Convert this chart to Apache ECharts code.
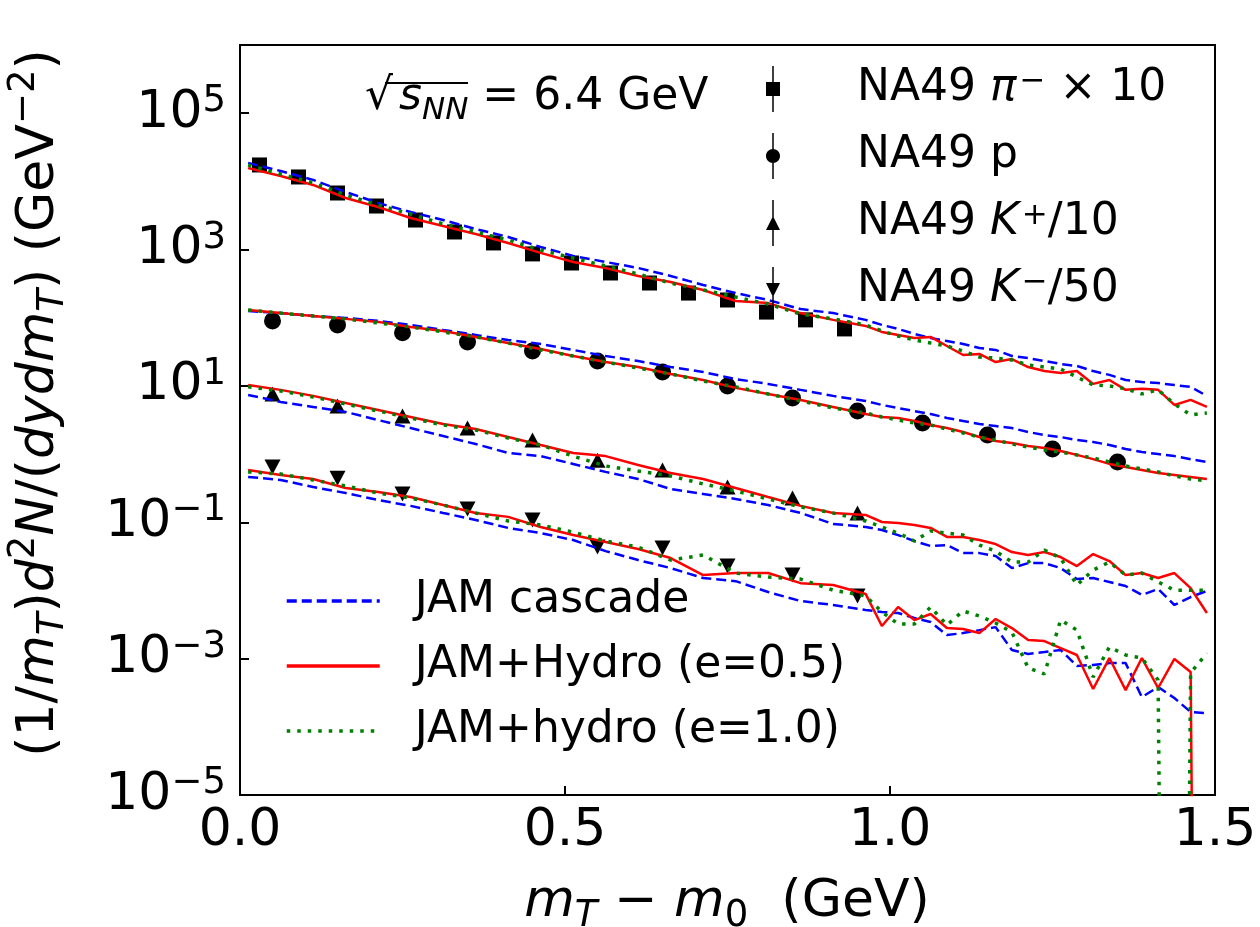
<!DOCTYPE html>
<html>
<head>
<meta charset="utf-8">
<title>NA49 mT spectra, JAM</title>
<script src="https://cdn.jsdelivr.net/npm/echarts@6/dist/echarts.min.js"></script>
<style>
  html, body { margin: 0; padding: 0; background: #fff; }
  #chart { width: 1260px; height: 927px; }
</style>
</head>
<body>
<div id="chart"></div>
<script>
// mT - m0 grid of the model curves (GeV)
var xModel = [0.0125, 0.0625, 0.1125, 0.1625, 0.2125, 0.2625, 0.3125, 0.3625, 0.4125, 0.4625,
  0.5125, 0.5625, 0.6125, 0.6625, 0.7125, 0.7625, 0.8125, 0.8625, 0.9125, 0.9625,
  0.9875, 1.0125, 1.0375, 1.0625, 1.0875, 1.1125, 1.1375, 1.1625, 1.1875, 1.2125,
  1.2375, 1.2625, 1.2875, 1.3125, 1.3375, 1.3625, 1.3875, 1.4125, 1.4375, 1.4625, 1.4875];

// pi- x 10
var piBlue = [18600, 14200, 10500, 6990, 4820, 3550, 2710, 2000, 1530, 1090, 806, 658, 537, 410, 302, 230, 182, 134, 117, 93,
  78.5, 68.5, 57.9, 50.5, 45.6, 41.2, 36.0, 33.7, 27.5, 25.6, 23.2, 21.0, 19.6, 16.5, 14.5, 12.2, 11.4, 11.0, 10.3, 9.68, 7.14];
var piRed = [15700, 12000, 8860, 5700, 4210, 2900, 2210, 1690, 1250, 893, 658, 537, 410, 334, 255, 176, 164, 117, 93, 75.8,
  61.9, 55.9, 50.5, 52.3, 38.5, 28.4, 29.4, 22.4, 24.8, 18.9, 16.5, 15.5, 16.5, 10.7, 12.2, 8.75, 9.05, 8.75, 5.26, 6.23, 4.92];
var piGreen = [17400, 12800, 9490, 6320, 4500, 3320, 2370, 1810, 1380, 986, 750, 574, 438, 323, 255, 201, 159, 113, 96.2, 78.5,
  64.0, 53.9, 47.2, 42.6, 38.5, 32.5, 26.5, 25.6, 24.0, 20.3, 18.9, 17.7, 13.5, 10.3, 10.0, 9.05, 7.63, 8.75, 5.44, 3.75, 4.01];

// protons
var prBlue = [125, 117, 106, 99.5, 89.9, 78.5, 66.2, 55.9, 47.2, 41.2, 33.7, 27.5, 23.2, 18.9, 16.0, 12.6, 10.7, 8.75, 7.14, 6.02,
  5.26, 4.74, 4.28, 3.87, 3.39, 3.06, 2.76, 2.58, 2.41, 2.11, 1.905, 1.78, 1.61, 1.505, 1.36, 1.19, 1.07, 1.0, 0.934, 0.843, 0.766];
var prRed = [130, 117, 106, 96.2, 86.9, 73.3, 64.0, 52.3, 42.6, 34.8, 27.5, 22.4, 18.9, 14.95, 12.2, 9.36, 7.63, 6.23, 4.92, 3.87,
  3.5, 3.39, 3.06, 2.67, 2.41, 2.11, 1.78, 1.56, 1.455, 1.315, 1.23, 1.11, 0.973, 0.843, 0.718, 0.645, 0.584, 0.528, 0.494, 0.462, 0.432];
var prGreen = [130, 117, 106, 96.2, 83.7, 73.3, 61.9, 52.3, 42.6, 33.7, 27.5, 22.4, 18.3, 14.95, 11.8, 9.68, 7.63, 6.02, 4.74, 4.01,
  3.5, 3.16, 2.86, 2.67, 2.33, 2.04, 1.78, 1.61, 1.406, 1.27, 1.15, 1.07, 0.973, 0.876, 0.766, 0.669, 0.606, 0.548, 0.478, 0.432, 0.404];

// K+ / 10
var kpBlue = [7.38, 5.82, 4.92, 4.15, 3.16, 2.41, 1.84, 1.406, 1.04, 0.934, 0.717, 0.548, 0.432, 0.308, 0.26, 0.22, 0.179, 0.137, 0.0945, 0.0854,
  0.0769, 0.0649, 0.0531, 0.0448, 0.0463, 0.0353, 0.0353, 0.032, 0.0213, 0.0252, 0.0252, 0.0213, 0.0147, 0.0152, 0.0133, 0.0116, 0.00859, 0.0105, 0.00612, 0.00801, 0.00982];
var kpRed = [10.3, 8.75, 7.14, 5.63, 4.44, 3.5, 2.76, 2.33, 1.78, 1.36, 1.04, 0.934, 0.69, 0.528, 0.432, 0.318, 0.235, 0.174, 0.137, 0.128,
  0.101, 0.0979, 0.0914, 0.0826, 0.0609, 0.0609, 0.0549, 0.0479, 0.0366, 0.0331, 0.0366, 0.0309, 0.0228, 0.0342, 0.027, 0.0168, 0.018, 0.0152, 0.018, 0.0108, 0.00467];
var kpGreen = [9.68, 8.43, 6.89, 5.44, 4.28, 3.39, 2.67, 2.26, 1.72, 1.36, 0.934, 0.669, 0.565, 0.478, 0.365, 0.288, 0.22, 0.168, 0.137, 0.1045,
  0.0854, 0.0694, 0.0531, 0.0743, 0.0694, 0.0649, 0.0463, 0.0378, 0.0261, 0.0261, 0.0391, 0.0299, 0.012, 0.0199, 0.0261, 0.0168, 0.018, 0.0133, 0.0101, 0.0101, 0.0101];

// K- / 50  (1e-30 = empty bin, drops off the axis)
var kmBlue = [0.462, 0.418, 0.329, 0.269, 0.212, 0.174, 0.137, 0.108, 0.0826, 0.0694, 0.0549, 0.0378, 0.0279, 0.0213, 0.0152, 0.0137, 0.00949, 0.007, 0.00612, 0.00517,
  0.00483, 0.00467, 0.00394, 0.00344, 0.00222, 0.00237, 0.00262, 0.0029, 0.00134, 0.00117, 0.00125, 0.00134, 0.000782, 0.000809, 0.00086, 0.00086, 0.000273, 0.000383, 0.000264, 0.000165, 0.000159];
var kmRed = [0.584, 0.494, 0.432, 0.318, 0.278, 0.235, 0.179, 0.137, 0.12, 0.0854, 0.0649, 0.0513, 0.0405, 0.0299, 0.0168, 0.018, 0.018, 0.0128, 0.012, 0.00889,
  0.00301, 0.00571, 0.00368, 0.00451, 0.00281, 0.00272, 0.00237, 0.00381, 0.00281, 0.00188, 0.00181, 0.00143, 0.00113, 0.000359, 0.00102, 0.000346, 0.00102, 0.000371, 0.00099, 0.000636, 1e-30];
var kmGreen = [0.548, 0.512, 0.418, 0.341, 0.269, 0.227, 0.179, 0.137, 0.1045, 0.0914, 0.0718, 0.0531, 0.0433, 0.0279, 0.0331, 0.018, 0.0157, 0.0147, 0.0101, 0.00831,
  0.00483, 0.00322, 0.00322, 0.00571, 0.00311, 0.005, 0.00422, 0.00333, 0.00245, 0.000731, 0.000596, 0.00368, 0.00262, 0.000537, 0.00148, 0.00113, 0.00102, 0.000485, 1e-30, 0.000616, 0.00121];

// NA49 data points
var pionX = [0.03, 0.09, 0.15, 0.21, 0.27, 0.33, 0.39, 0.45, 0.51, 0.57, 0.63, 0.69, 0.75, 0.81, 0.87, 0.93];
var pionY = [17400, 11600, 6750, 4350, 2710, 1810, 1250, 863, 635, 453, 323, 230, 182, 121, 93, 68.5];
var protonX = [0.05, 0.15, 0.25, 0.35, 0.45, 0.55, 0.65, 0.75, 0.85, 0.95, 1.05, 1.15, 1.25, 1.35];
var protonY = [89.9, 78.5, 60.0, 44.1, 32.5, 23.2, 16.0, 9.98, 6.66, 4.28, 2.86, 1.905, 1.19, 0.766];
var kaonX = [0.05, 0.15, 0.25, 0.35, 0.45, 0.55, 0.65, 0.75, 0.85, 0.95];
var kplusY = [7.63, 5.09, 3.62, 2.41, 1.61, 0.812, 0.584, 0.329, 0.227, 0.137];
var kminusY = [0.645, 0.443, 0.26, 0.157, 0.108, 0.0433, 0.0419, 0.0228, 0.0168, 0.00831];

var xTicks = [0, 0.5, 1.0, 1.5];
var yTicks = [1e-5, 1e-3, 1e-1, 1e1, 1e3, 1e5];

var FONT = 'DejaVu Sans';

function pairs(xs, ys) {
  return xs.map(function (x, i) { return [x, ys[i]]; });
}

var chart = echarts.init(document.getElementById('chart'));

var modelStyles = [
  { name: 'JAM cascade', color: '#0000ff', width: 2.5, type: [10, 5] },
  { name: 'JAM+Hydro (e=0.5)', color: '#ff0000', width: 2.5, type: 'solid' },
  { name: 'JAM+hydro (e=1.0)', color: '#008000', width: 3.5, type: [3.5, 7] }
];
var modelData = [
  [piBlue, piRed, piGreen],
  [prBlue, prRed, prGreen],
  [kpBlue, kpRed, kpGreen],
  [kmBlue, kmRed, kmGreen]
];

var series = [];
// data points first so the curves lie over them
var points = [
  { name: 'NA49 pi', x: pionX, y: pionY, symbol: 'rect', size: 15, rot: 0 },
  { name: 'NA49 p', x: protonX, y: protonY, symbol: 'circle', size: 17, rot: 0 },
  { name: 'NA49 K+', x: kaonX, y: kplusY, symbol: 'triangle', size: [16, 15], rot: 0 },
  { name: 'NA49 K-', x: kaonX, y: kminusY, symbol: 'triangle', size: [16, 15], rot: 180 }
];
points.forEach(function (p) {
  series.push({
    name: p.name,
    type: 'scatter',
    z: 1,
    symbol: p.symbol,
    symbolSize: p.size,
    symbolRotate: p.rot,
    itemStyle: { color: '#000', opacity: 1 },
    data: pairs(p.x, p.y)
  });
});
modelData.forEach(function (set) {
  set.forEach(function (ys, k) {
    var st = modelStyles[k];
    series.push({
      name: st.name,
      type: 'line',
      z: 2 + k,
      symbol: 'none',
      clip: true,
      itemStyle: { color: st.color },
      lineStyle: { color: st.color, width: st.width, type: st.type, cap: 'butt' },
      data: pairs(xModel, ys)
    });
  });
});

var legendRich = {
  g: { width: 72 },
  g2: { width: 30 },
  n: { fontFamily: FONT, fontSize: 44, lineHeight: 46, color: '#000' },
  i: { fontFamily: FONT, fontSize: 44, lineHeight: 46, fontStyle: 'italic', color: '#000' },
  sp: { fontFamily: FONT, fontSize: 31, lineHeight: 26, verticalAlign: 'top', padding: [0, 0, 0, 3], color: '#000' }
};
var legendText = {
  'NA49 pi': '{g| }{n|NA49 }{i|π}{sp|−}{n| × 10}',
  'NA49 p': '{g| }{n|NA49 p}',
  'NA49 K+': '{g| }{n|NA49 }{i|K}{sp|+}{n|/10}',
  'NA49 K-': '{g| }{n|NA49 }{i|K}{sp|−}{n|/50}',
  'JAM cascade': '{g2| }{n|JAM cascade}',
  'JAM+Hydro (e=0.5)': '{g2| }{n|JAM+Hydro (e=0.5)}',
  'JAM+hydro (e=1.0)': '{g2| }{n|JAM+hydro (e=1.0)}'
};
function legendFormatter(name) { return legendText[name]; }

// error-bar legend glyphs: vertical bar + marker
var bar = 'M6.25,0 H7.75 V46 H6.25 Z ';
var circ = 'M0,23 C0,19.13 3.13,16 7,16 C10.87,16 14,19.13 14,23 C14,26.87 10.87,30 7,30 C3.13,30 0,26.87 0,23 Z';

var titleRich = {
  n: { fontFamily: FONT, fontSize: 52, lineHeight: 66, fill: '#000', color: '#000' },
  i: { fontFamily: FONT, fontSize: 52, lineHeight: 66, fontStyle: 'italic', fill: '#000', color: '#000' },
  sb: { fontFamily: FONT, fontSize: 37, lineHeight: 37, fontStyle: 'italic', verticalAlign: 'bottom', fill: '#000', color: '#000' },
  s0: { fontFamily: FONT, fontSize: 37, lineHeight: 37, verticalAlign: 'bottom', fill: '#000', color: '#000' },
  sp: { fontFamily: FONT, fontSize: 37, lineHeight: 37, verticalAlign: 'top', fill: '#000', color: '#000' }
};

var option = {
  animation: false,
  backgroundColor: '#fff',
  grid: {
    left: 240, right: 45, top: 45, bottom: 132,
    containLabel: false,
    outerBoundsMode: 'none',
    show: true, borderColor: '#000', borderWidth: 2, backgroundColor: 'transparent'
  },
  xAxis: {
    type: 'value',
    min: 0, max: 1.5, interval: 0.5,
    axisLine: { show: false },
    splitLine: { show: false },
    axisTick: { show: true, inside: true, length: 9, lineStyle: { color: '#000', width: 2 }, customValues: xTicks },
    axisLabel: {
      fontFamily: FONT, fontSize: 52, color: '#000', margin: 10, lineHeight: 52,
      customValues: xTicks,
      formatter: function (v) { return v.toFixed(1); }
    }
  },
  yAxis: {
    type: 'log',
    min: 1e-5, max: 1e6,
    axisLine: { show: false },
    splitLine: { show: false },
    minorTick: { show: false },
    axisTick: { show: true, inside: true, length: 9, lineStyle: { color: '#000', width: 2 }, customValues: yTicks },
    axisLabel: {
      margin: 14,
      customValues: yTicks,
      formatter: function (v) {
        var e = Math.round(Math.log10(v));
        return '{b|10}{s|' + (e < 0 ? '−' + (-e) : e) + '}';
      },
      rich: {
        b: { fontFamily: FONT, fontSize: 52, lineHeight: 60, color: '#000' },
        s: { fontFamily: FONT, fontSize: 37, lineHeight: 30, verticalAlign: 'top', color: '#000' }
      }
    },
    name: '{n|(1/}{i|m}{sb|T}{n|)}{i|d}{sp|2}{i|N}{n|/(}{i|dydm}{sb|T}{n|) (GeV}{sp|−2}{n|)}',
    nameLocation: 'middle',
    nameRotate: 90,
    nameGap: 168,
    nameTextStyle: {
      padding: [0, 0, 0, 34],
      rich: titleRich
    }
  },
  legend: [
    {
      orient: 'vertical',
      left: 761, top: 61,
      itemWidth: 14, itemHeight: 46, itemGap: 21,
      selectedMode: false,
      formatter: legendFormatter,
      textStyle: { rich: legendRich },
      data: [
        { name: 'NA49 pi', icon: 'path://' + bar + 'M0,16 H14 V30 H0 Z' },
        { name: 'NA49 p', icon: 'path://' + bar + circ },
        { name: 'NA49 K+', icon: 'path://' + bar + 'M7,16 L14,30 L0,30 Z' },
        { name: 'NA49 K-', icon: 'path://' + bar + 'M0,16 L14,16 L7,30 Z' }
      ]
    },
    {
      orient: 'vertical',
      left: 280, top: 574,
      itemWidth: 93, itemHeight: 14, itemGap: 21,
      selectedMode: false,
      formatter: legendFormatter,
      textStyle: { rich: legendRich },
      itemStyle: { opacity: 0 },
      lineStyle: { width: 3.5 },
      data: ['JAM cascade', 'JAM+Hydro (e=0.5)', 'JAM+hydro (e=1.0)']
    }
  ],
  graphic: [
    {
      // x-axis title, centred under the plot area
      type: 'text',
      x: 727, y: 902,
      style: {
        text: '{i|m}{sb|T}{n| − }{i|m}{s0|0}{n|  (GeV)}',
        rich: titleRich,
        align: 'center',
        verticalAlign: 'middle'
      }
    },
    {
      type: 'text',
      left: 365, top: 76,
      style: {
        text: '{r|√}{i|s}{sb|NN}{n| = 6.4 GeV}',
        rich: {
          r: { fontFamily: FONT, fontSize: 44, lineHeight: 56, fill: '#000' },
          n: { fontFamily: FONT, fontSize: 44, lineHeight: 56, fill: '#000' },
          i: { fontFamily: FONT, fontSize: 44, lineHeight: 56, fontStyle: 'italic', fill: '#000', padding: [0, 0, 0, 6] },
          sb: { fontFamily: FONT, fontSize: 31, lineHeight: 31, fontStyle: 'italic', verticalAlign: 'bottom', fill: '#000' }
        }
      }
    },
    {
      // vinculum of the square root over s_NN
      type: 'line',
      shape: { x1: 385, y1: 83, x2: 468, y2: 83 },
      style: { stroke: '#000', lineWidth: 2 }
    }
  ],
  series: series
};

chart.setOption(option);
</script>
</body>
</html>
